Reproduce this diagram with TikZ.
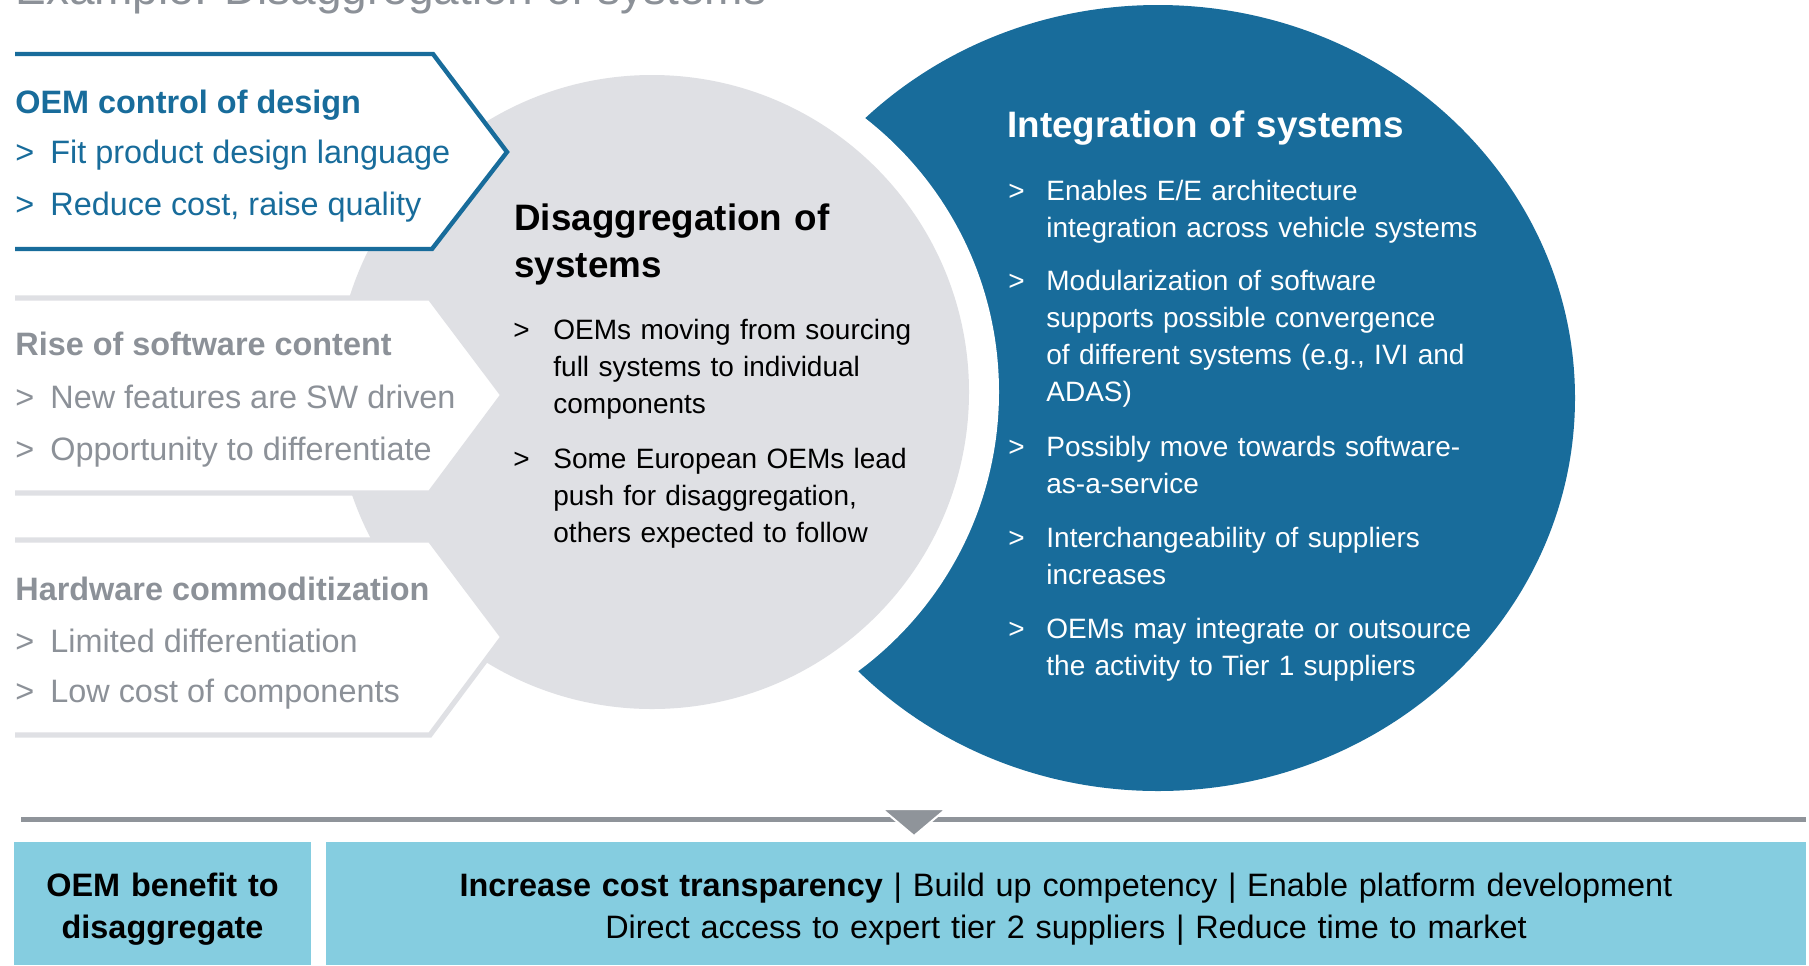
\documentclass[tikz,border=0pt]{standalone}
\usepackage{fontspec}
\setmainfont{Liberation Sans}
\usetikzlibrary{positioning}
\definecolor{OemBlue}{RGB}{24,108,155}
\definecolor{CircGrey}{RGB}{223,224,228}
\definecolor{TxtGrey}{RGB}{140,145,152}
\definecolor{BarGrey}{RGB}{143,148,154}
\definecolor{BoxCyan}{RGB}{133,205,224}

\tikzset{
	head/.style={anchor=base west, inner sep=0pt, font=\bfseries\fontsize{16.2}{25.5}\selectfont},
	item/.style={anchor=base west, inner sep=0pt, font=\fontsize{16.2}{25.5}\selectfont},
	ctitle/.style={anchor=base west, inner sep=0pt, text width=220pt, align=left, font=\bfseries\fontsize{18.4}{23.5}\selectfont},
	cmark/.style={anchor=base west, inner sep=0pt, font=\fontsize{14}{18.5}\selectfont},
	ctext/.style={cmark, text width=240pt, align=left},
	bottomtext/.style={anchor=base, inner sep=0pt, align=center, font=\fontsize{16.2}{21}\selectfont}
}

\begin{document}
\begin{tikzpicture}[x=0.5pt, y=-0.5pt]
	\useasboundingbox (0,0) rectangle (1809,965);
	% page title, cut by the top edge
	\node[anchor=base west, inner sep=0pt, TxtGrey, font=\fontsize{23}{28}\selectfont] (title) at (15,4) {Example: Disaggregation of systems};

	% circles
	\coordinate (G) at (652,392);
	\coordinate (B) at (1158,398);
	\fill[OemBlue] (B) ellipse [x radius=208.5pt, y radius=196.5pt];
	\fill[white] (G) circle [radius=173.5pt];
	\fill[CircGrey] (G) circle [radius=158.5pt];

	% chevrons
	\fill[white] (0,54) -- (433,54) -- (507,152) -- (432,249) -- (0,249) -- cycle;
	\draw[OemBlue, line width=2.2pt] (15,54) -- (433,54) -- (507,152) -- (432,249) -- (15,249);
	\foreach \t/\m/\b in {298/395/493, 540/637/735} {
		\fill[white] (0,\t) -- (430,\t) -- (503,\m) -- (430,\b) -- (0,\b) -- cycle;
		\draw[CircGrey, line width=2.6pt] (15,\t) -- (430,\t) -- (503,\m) -- (430,\b) -- (15,\b);
	}

	% chevron texts
	\node[head, OemBlue] (h1) at (15,113) {OEM control of design};
	\foreach \y/\t [count=\i] in {163/Fit product design language, 215/{Reduce cost, raise quality}} {
		\node[item, OemBlue] (ma\i) at (15,\y) {>};
		\node[item, OemBlue] (ta\i) at (50,\y) {\t};
	}
	\node[head, TxtGrey] (h2) at (15,355) {Rise of software content};
	\foreach \y/\t [count=\i] in {408/New features are SW driven, 460/Opportunity to differentiate} {
		\node[item, TxtGrey] (mb\i) at (15,\y) {>};
		\node[item, TxtGrey] (tb\i) at (50,\y) {\t};
	}
	\node[head, TxtGrey] (h3) at (15,600) {Hardware commoditization};
	\foreach \y/\t [count=\i] in {652/Limited differentiation, 702/Low cost of components} {
		\node[item, TxtGrey] (mc\i) at (15,\y) {>};
		\node[item, TxtGrey] (tc\i) at (50,\y) {\t};
	}

	% grey circle
	\node[ctitle] (dis) at (514,230) {Disaggregation of\\systems};
	\foreach \y/\t [count=\i] in {339/{OEMs moving from sourcing\\full systems to individual\\components},
		468/{Some European OEMs lead\\push for disaggregation,\\others expected to follow}} {
		\node[cmark] (md\i) at (513,\y) {>};
		\node[ctext] (td\i) at (553,\y) {\t};
	}

	% blue circle
	\node[ctitle, white, text width=260pt] (int) at (1007,137) {Integration of systems};
	\foreach \y/\t [count=\i] in {200/{Enables E/E architecture\\integration across vehicle systems},
		290/{Modularization of software\\supports possible convergence\\of different systems (e.g., IVI and\\ADAS)},
		456/{Possibly move towards software-\\as-a-service},
		547/{Interchangeability of suppliers\\increases},
		638/{OEMs may integrate or outsource\\the activity to Tier 1 suppliers}} {
		\node[cmark, white] (mi\i) at (1008,\y) {>};
		\node[ctext, white] (ti\i) at (1046,\y) {\t};
	}

	% bar with arrow
	\draw[BarGrey, line width=2.5pt] (21,819) -- (1806,819);
	\fill[BarGrey, draw=white, line width=1pt] (882,809) -- (946,809) -- (914,836) -- cycle;

	% benefit boxes
	\fill[BoxCyan] (14,842) rectangle (311,965);
	\fill[BoxCyan] (326,842) rectangle (1806,965);
	\node[bottomtext, text width=145pt, font=\bfseries\fontsize{16.2}{21}\selectfont] (ben) at (162.5,896) {OEM benefit to\\disaggregate};
	\node[bottomtext, text width=720pt] (list) at (1066,896) {\textbf{Increase cost transparency} | Build up competency | Enable platform development\\Direct access to expert tier 2 suppliers | Reduce time to market};
\end{tikzpicture}
\end{document}
